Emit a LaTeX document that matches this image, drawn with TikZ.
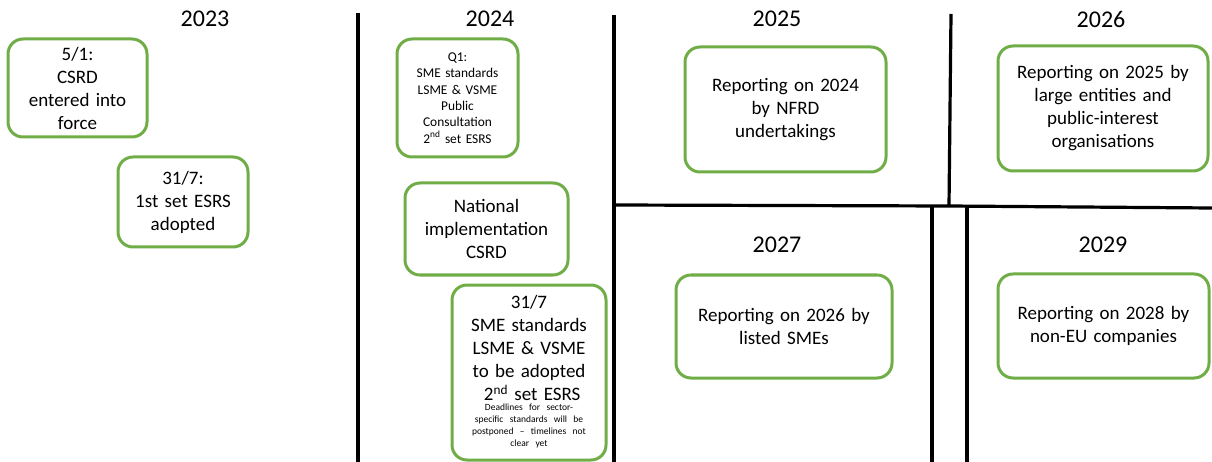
\documentclass[tikz,border=0pt]{standalone}
\usepackage{fontspec}
\setmainfont{Carlito}
\usetikzlibrary{positioning}
\definecolor{BoxGreen}{RGB}{112,173,71}

\begin{document}
\begin{tikzpicture}[x=1pt,y=-1pt,
  event/.style={draw=BoxGreen,line width=3pt,rounded corners=15pt,
    align=center,inner sep=2pt,font=\fontsize{19}{23}\selectfont},
  year/.style={font=\fontsize{24}{28}\selectfont},
  divider/.style={line width=3.2pt}]
  \useasboundingbox (0,0) rectangle (1212,462);

  \draw[divider] (358,13) -- (358,462);
  \draw[divider] (614,15) -- (614,462);
  \draw[divider] (951,14) -- (949,206);
  \draw[divider] (614,205) -- (949,206) -- (1212,208);
  \draw[divider] (932,207) -- (932,462);
  \draw[divider] (967,207) -- (967,462);

  \node[year] (y2023) at (205,19) {2023};
  \node[year] (y2024) at (490,19) {2024};
  \node[year] (y2025) at (777,19) {2025};
  \node[year] (y2026) at (1101,19) {2026};
  \node[year] (y2027) at (777,245) {2027};
  \node[year] (y2029) at (1103,245) {2029};

  \node[event,minimum width=139,minimum height=98,text width=127] (csrdforce) at (77.5,88)
    {5/1:\\CSRD\\entered into\\force};
  \node[event,minimum width=130,minimum height=90,text width=118] (esrsfirst) at (183,202)
    {31/7:\\1st set ESRS\\adopted};
  \node[event,minimum width=121,minimum height=118,text width=109,
    font=\fontsize{13.4}{16.3}\selectfont] (smeconsult) at (457.5,98)
    {Q1:\\SME standards\\LSME \& VSME\\Public\\Consultation\\2\textsuperscript{nd} set ESRS};
  \node[event,minimum width=163,minimum height=92,text width=151] (national) at (486.5,229)
    {National\\implementation\\CSRD};
  \node[event,minimum width=154,minimum height=175,text width=142] (smeadopt) at (529,372.5)
    {31/7\\SME standards\\LSME \& VSME\\to be adopted\\~2\textsuperscript{nd} set ESRS\par
     \vspace{1pt}\fontsize{9.5}{11.7}\selectfont
     \begin{tabular}{@{}c@{}}Deadlines for sector-\\specific standards will be\\
       postponed -- timelines not\\clear yet\end{tabular}};

  \node[event,minimum width=201,minimum height=125,text width=189] (nfrd) at (785.5,109.5)
    {Reporting on 2024\\by NFRD\\undertakings};
  \node[event,minimum width=210,minimum height=125,text width=198] (large) at (1103,108.5)
    {Reporting on 2025 by\\large entities and\\public-interest\\organisations};
  \node[event,minimum width=216,minimum height=103,text width=204] (listed) at (784,326.5)
    {Reporting on 2026 by\\listed SMEs};
  \node[event,minimum width=211,minimum height=104,text width=199] (noneu) at (1103.5,326)
    {Reporting on 2028 by\\non-EU companies};
\end{tikzpicture}
\end{document}
